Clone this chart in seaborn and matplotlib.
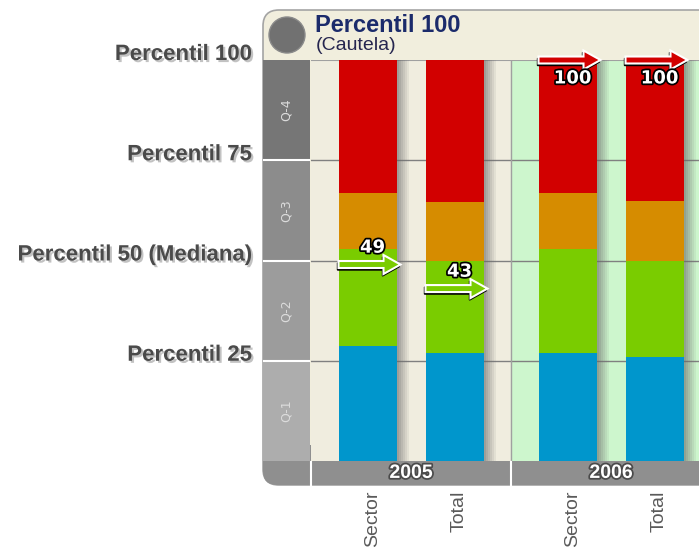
import numpy as np
import pandas as pd
import seaborn as sns
import matplotlib
matplotlib.use("Agg")
import matplotlib.pyplot as plt
from matplotlib import patches, patheffects
from matplotlib.transforms import IdentityTransform

# ---- data ----
years = ["2005", "2006"]
groups = ["Sector", "Total"]
# cumulative top of each quartile band for: 2005 Sector, 2005 Total, 2006 Sector, 2006 Total
q1_top = [28.8, 26.9, 26.9, 25.9]
q2_top = [52.9, 49.9, 52.9, 49.9]
q3_top = [66.8, 64.7, 66.8, 64.8]
q4_top = [100, 100, 100, 100]
marker_values = [49, 43, 100, 100]
marker_bands = ["Q-2", "Q-2", "Q-4", "Q-4"]
quartiles = ["Q-1", "Q-2", "Q-3", "Q-4"]
percentile_ticks = [25, 50, 75, 100]
percentile_labels = ["Percentil 25", "Percentil 50 (Mediana)", "Percentil 75", "Percentil 100"]
title = "Percentil 100"
subtitle = "(Cautela)"

band_colors = {"Q-1": "#0096cc", "Q-2": "#7acc00", "Q-3": "#d68c00", "Q-4": "#d20000"}
column_colors = {"Q-1": "#adadad", "Q-2": "#9c9c9c", "Q-3": "#8c8c8c", "Q-4": "#767676"}

df = pd.DataFrame({
    "year": [y for y in years for g in groups],
    "group": groups * len(years),
    "Q-1": q1_top, "Q-2": q2_top, "Q-3": q3_top, "Q-4": q4_top,
})

W, H = 699, 553
fig = plt.figure(figsize=(W / 100, H / 100), dpi=100)
fig.patch.set_facecolor("white")
px = IdentityTransform()

# rounded panel behind everything
fig.add_artist(patches.FancyBboxPatch((263, H - 485), 500, 475,
               boxstyle="round,pad=0,rounding_size=16", transform=px,
               facecolor="#f1eedd", edgecolor="#a4a4a4", lw=1.2, zorder=-2))
fig.add_artist(patches.FancyBboxPatch((263, H - 485), 500, 40,
               boxstyle="round,pad=0,rounding_size=14", transform=px,
               facecolor="#8f8f8f", edgecolor="none", zorder=-1))
fig.add_artist(patches.Circle((287, H - 35), 18, transform=px,
               facecolor="#717171", edgecolor="#8a8a8a", lw=1, zorder=-1))
fig.text(315, H - 32, title, transform=px, fontsize=17, fontweight="bold",
         family="Liberation Sans", color="#1b2b6b", va="baseline")
fig.text(316, H - 50, subtitle, transform=px, fontsize=14,
         family="Liberation Sans", color="#26264f", va="baseline")

# ---- main chart ----
ax = fig.add_axes([311 / W, 1 - 461 / H, 388 / W, 401 / H])
ax.set_facecolor("none")
ax.axvspan(-0.5, 0.5, color="#f0eddf", zorder=0)
ax.axvspan(0.5, 1.6, color="#cdf6cd", zorder=0)
for v in percentile_ticks[:-1]:
    ax.axhline(v, color="#808080", lw=1, zorder=1)
ax.axhline(100, color="#a0a0a0", lw=1.5, zorder=1)
ax.axvline(0.5, color="#a0a0a0", lw=1, zorder=1)

n_before = len(ax.patches)
for q in reversed(quartiles):
    sns.barplot(data=df, x="year", y=q, hue="group", hue_order=groups, order=years,
                palette=[band_colors[q]] * 2, width=0.87, gap=1 / 3, saturation=1,
                linewidth=0, legend=False, errorbar=None, ax=ax, zorder=3)
    if q == "Q-4":
        top_bars = sorted(ax.patches[n_before:], key=lambda p: p.get_x())

ax.set_xlim(-0.5, 1.44)
ax.set_ylim(0, 100)
for s in ax.spines.values():
    s.set_visible(False)
ax.set_xlabel("")
ax.set_ylabel("")
ax.set_yticks([])

# bar shadows
px_x = 1.94 / 388  # data units per pixel in x
px_y = 100 / 401
for b in top_bars:
    x1 = b.get_x() + b.get_width()
    for k in range(6):
        ax.add_patch(patches.Rectangle((x1 + k * 2 * px_x, 0), 2 * px_x, 100,
                     facecolor="#6a6a6a", alpha=0.6 * (1 - k / 6), lw=0, zorder=2.5))

# marker arrows
halo = [patheffects.withStroke(linewidth=2.5, foreground="black")]
for b, v, q in zip(top_bars, marker_values, marker_bands):
    x0 = b.get_x()
    length = b.get_width() + 4 * px_x
    kw = dict(width=7 * px_y, head_width=19 * px_y, head_length=17 * px_x,
              length_includes_head=True, clip_on=False)
    ax.add_patch(patches.FancyArrow(x0 - px_x, v - 2 * px_y, length, 0, fc="black",
                                    ec="black", lw=1, zorder=5, **kw))
    ax.add_patch(patches.FancyArrow(x0, v, length, 0, fc=band_colors[q],
                                    ec="white", lw=1.5, zorder=6, **kw))
    cx = b.get_x() + b.get_width() / 2 + 5 * px_x
    dy = -4.6 if v >= 95 else 4.2
    ax.text(cx, v + dy, f"{v}", ha="center", va="center", fontsize=13,
            fontweight="bold", color="white", path_effects=halo, zorder=7)

# category tick labels and year band
centers = [b.get_x() + b.get_width() / 2 + 5 * px_x for b in top_bars]
ax.set_xticks(centers, labels=[g for y in years for g in groups])
ax.tick_params(axis="x", length=0, pad=21, labelsize=14, labelcolor="#5a5a5a")
for lbl in ax.get_xticklabels():
    lbl.set_rotation(90)
    lbl.set_va("top")
    lbl.set_family("Liberation Sans")
year_fx = [patheffects.withStroke(linewidth=2.5, foreground="#4a4a4a")]
for i, y in enumerate(years):
    ax.text(i, -0.031, y, transform=ax.get_xaxis_transform(), ha="center", va="center",
            fontsize=14, fontweight="bold", family="Liberation Sans", color="white",
            path_effects=year_fx, clip_on=False)
for xv in (-0.5, 0.5):
    ax.axvline(xv, ymin=-0.06, ymax=-0.002, color="white", lw=1.5, clip_on=False)

# ---- quartile column with percentile labels ----
axq = fig.add_axes([263 / W, 1 - 461 / H, 47 / W, 401 / H])
axq.set_xlim(0, 1)
axq.set_ylim(0, 100)
for i, q in enumerate(quartiles):
    axq.axhspan(i * 25, (i + 1) * 25, color=column_colors[q], lw=0)
    axq.text(0.5, i * 25 + 12.5, q, rotation=90, ha="center", va="center",
             fontsize=9, color="#dcdcdc")
for v in percentile_ticks[:-1]:
    axq.axhline(v, color="white", lw=1.5)
for s in axq.spines.values():
    s.set_visible(False)
axq.set_xticks([])
axq.set_yticks(percentile_ticks, labels=percentile_labels)
axq.tick_params(axis="y", length=0, pad=8, labelsize=16, labelcolor="#4a4a4a")
shadow = [patheffects.SimplePatchShadow(offset=(1.5, -1.5), shadow_rgbFace="#a8a8a8", alpha=0.7),
          patheffects.Normal()]
for lbl in axq.get_yticklabels():
    lbl.set_va("baseline")
    lbl.set_fontweight("bold")
    lbl.set_family("Liberation Sans")
    lbl.set_path_effects(shadow)

fig.savefig("out.png", dpi=100)
